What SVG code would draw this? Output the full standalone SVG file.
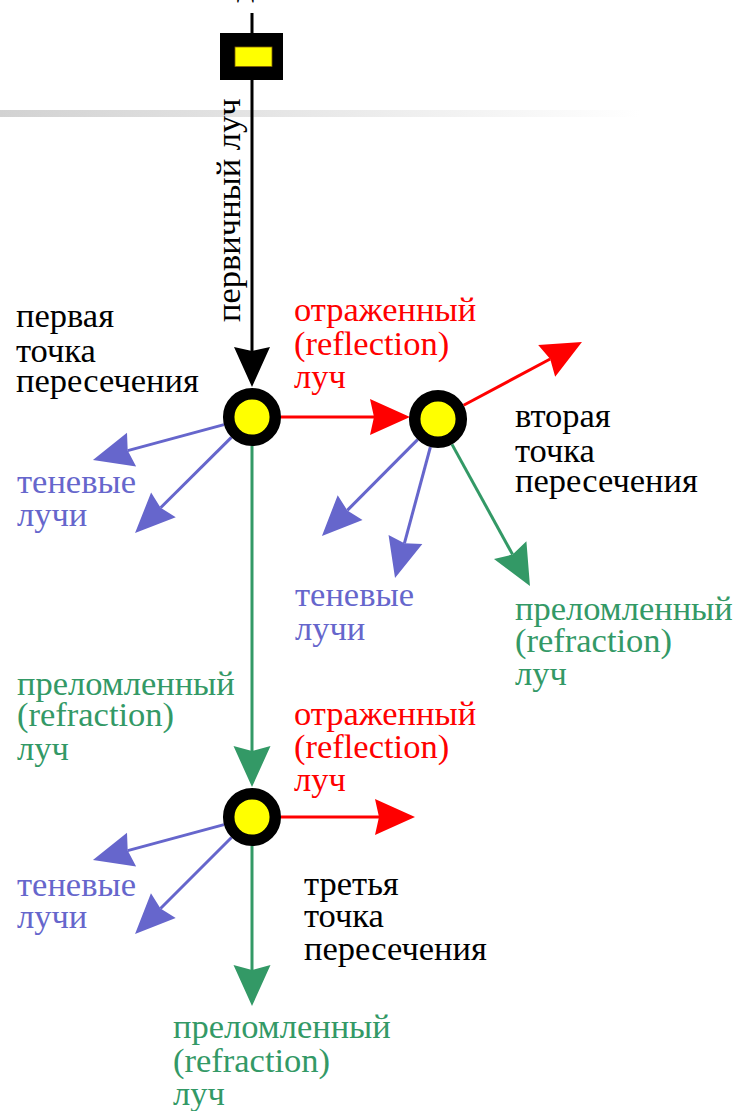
<svg xmlns="http://www.w3.org/2000/svg" width="737" height="1111" viewBox="0 0 737 1111">
  <defs>
    <linearGradient id="bar" x1="0" y1="0" x2="1" y2="0">
      <stop offset="0" stop-color="#d2d2d2"/>
      <stop offset="1" stop-color="#ffffff"/>
    </linearGradient>
    <!-- notched arrowheads: path end sits at the notch, tip lies 36px further on -->
    <marker id="ah-black" markerUnits="userSpaceOnUse" orient="auto" refX="0" refY="0" markerWidth="1" markerHeight="1" overflow="visible">
      <path d="M36,0 L-4,-18 L0,0 L-4,18 Z" fill="#000"/>
    </marker>
    <marker id="ah-red" markerUnits="userSpaceOnUse" orient="auto" refX="0" refY="0" markerWidth="1" markerHeight="1" overflow="visible">
      <path d="M36,0 L-4,-18 L0,0 L-4,18 Z" fill="#ff0000"/>
    </marker>
    <marker id="ah-blue" markerUnits="userSpaceOnUse" orient="auto" refX="0" refY="0" markerWidth="1" markerHeight="1" overflow="visible">
      <path d="M36,0 L-4,-17.5 L0,0 L-4,17.5 Z" fill="#6666cc"/>
    </marker>
    <marker id="ah-green" markerUnits="userSpaceOnUse" orient="auto" refX="0" refY="0" markerWidth="1" markerHeight="1" overflow="visible">
      <path d="M36,0 L-5,-18.5 L0,0 L-5,18.5 Z" fill="#339966"/>
    </marker>
  </defs>
  <style>
    text { font-family: "Liberation Serif", "Times New Roman", serif; font-size: 34.5px; }
    .k { fill: #000; }
    .r { fill: #ff0000; }
    .b { fill: #6666cc; }
    .g { fill: #339966; }
    .ray { fill: none; stroke-width: 3; }
    .ray-k { stroke: #000; marker-end: url(#ah-black); }
    .ray-r { stroke: #ff0000; marker-end: url(#ah-red); }
    .ray-b { stroke: #6666cc; marker-end: url(#ah-blue); }
    .ray-g { stroke: #339966; marker-end: url(#ah-green); }
    .hit { fill: #ffff00; stroke: #000; stroke-width: 11.5; }
  </style>

  <rect width="737" height="1111" fill="#fff"/>
  <!-- faded horizontal rule -->
  <rect x="0" y="110" width="640" height="7" fill="url(#bar)"/>

  <text class="k" x="237" y="-4">д</text>

  <g id="connectors">
    <!-- primary ray from the source -->
    <path class="ray ray-k" d="M252,13 L252,351"/>
    <!-- from point 1 -->
    <path class="ray ray-r" d="M281,417 L374,417"/>
    <path class="ray ray-b" d="M224,424.6 L127.7,450.6"/>
    <path class="ray ray-b" d="M231.4,437.4 L160.6,507.7"/>
    <path class="ray ray-g" d="M252,446 L252,751"/>
    <!-- from point 2 -->
    <path class="ray ray-r" d="M463.6,405.3 L550.2,359"/>
    <path class="ray ray-b" d="M417.6,439.6 L347.3,510.4"/>
    <path class="ray ray-b" d="M430.4,447 L404.4,543.3"/>
    <path class="ray ray-g" d="M452,444.4 L512.6,554.5"/>
    <!-- from point 3 -->
    <path class="ray ray-r" d="M281,817 L379,817"/>
    <path class="ray ray-b" d="M224,824.6 L127.7,850.6"/>
    <path class="ray ray-b" d="M231.5,837.5 L160.5,908.5"/>
    <path class="ray ray-g" d="M252,846 L252,970"/>
  </g>

  <g id="source">
    <rect x="220" y="33" width="63" height="47" fill="#000"/>
    <rect x="235" y="47" width="37" height="19.5" fill="#ffff00" stroke="#806000" stroke-width="0.8"/>
  </g>

  <g id="point1"><circle class="hit" cx="252" cy="417" r="23.3"/></g>
  <g id="point2"><circle class="hit" cx="438" cy="419" r="23.3"/></g>
  <g id="point3"><circle class="hit" cx="252" cy="817" r="23.3"/></g>

  <g id="labels">
    <text class="k" transform="translate(240,322) rotate(-90)">первичный луч</text>

    <text class="k" x="16" y="327">первая</text>
    <text class="k" x="16" y="362">точка</text>
    <text class="k" x="16" y="392">пересечения</text>

    <text class="r" x="294" y="321">отраженный</text>
    <text class="r" x="294" y="355">(reflection)</text>
    <text class="r" x="294" y="388">луч</text>

    <text class="k" x="515" y="427">вторая</text>
    <text class="k" x="515" y="462">точка</text>
    <text class="k" x="515" y="492">пересечения</text>

    <text class="b" x="17" y="493">теневые</text>
    <text class="b" x="17" y="526">лучи</text>

    <text class="b" x="295" y="606">теневые</text>
    <text class="b" x="295" y="640">лучи</text>

    <text class="g" x="515" y="620">преломленный</text>
    <text class="g" x="515" y="652">(refraction)</text>
    <text class="g" x="515" y="685">луч</text>

    <text class="g" x="17" y="695">преломленный</text>
    <text class="g" x="17" y="726">(refraction)</text>
    <text class="g" x="17" y="760">луч</text>

    <text class="r" x="294" y="725">отраженный</text>
    <text class="r" x="294" y="758">(reflection)</text>
    <text class="r" x="294" y="791">луч</text>

    <text class="b" x="17" y="896">теневые</text>
    <text class="b" x="17" y="928">лучи</text>

    <text class="k" x="304" y="895">третья</text>
    <text class="k" x="304" y="927">точка</text>
    <text class="k" x="304" y="960">пересечения</text>

    <text class="g" x="173" y="1038">преломленный</text>
    <text class="g" x="173" y="1072">(refraction)</text>
    <text class="g" x="173" y="1105">луч</text>
  </g>
</svg>
